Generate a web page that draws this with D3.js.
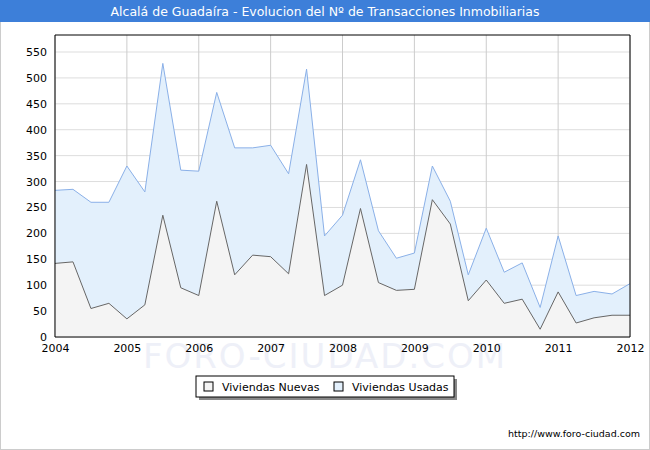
<!DOCTYPE html><html><head><script src="https://d3js.org/d3.v7.min.js"></script>
<style>body{margin:0}svg{font-family:Verdana,"DejaVu Sans",sans-serif}</style></head><body><svg width="650" height="450"></svg><script>
const quarters=d3.range(33).map(i=>2004+i/4);
const nuevas=[142,145,55,65,35,62,235,95,80,262,120,158,155,122,333,80,100,248,105,90,92,265,218,70,110,65,73,15,87,27,37,42,42];
const totales=[283,285,260,260,330,280,528,322,320,472,365,365,370,315,517,195,235,342,205,152,162,330,262,120,210,125,143,57,195,80,88,83,103];
const usadas=totales.map((t,i)=>t-nuevas[i]);
const yTicks=[0,50,100,150,200,250,300,350,400,450,500,550];
const xTicks=[2004,2005,2006,2007,2008,2009,2010,2011,2012];
const svg=d3.select("svg");
svg.append("rect").attr("x",0.5).attr("y",0.5).attr("width",649).attr("height",449).attr("fill","#fff").attr("stroke","#ccc");
svg.append("rect").attr("x",0).attr("y",0).attr("width",650).attr("height",22).attr("fill","#3d7fd9");
svg.append("text").attr("x",325).attr("y",16).attr("text-anchor","middle").attr("fill","#fff").attr("font-size",12.5).text("Alcalá de Guadaíra - Evolucion del Nº de Transacciones Inmobiliarias");
const x=d3.scaleLinear().domain([2004,2012]).range([55,630]);
const y=d3.scaleLinear().domain([0,550]).range([337,52]);
const g=svg.append("g");
g.selectAll(".h").data(yTicks).join("line").attr("x1",55).attr("x2",630).attr("y1",d=>y(d)).attr("y2",d=>y(d)).attr("stroke","#ddd");
g.selectAll(".v").data(xTicks).join("line").attr("x1",d=>x(d)).attr("x2",d=>x(d)).attr("y1",y(0)).attr("y2",35).attr("stroke","#ccc");
svg.append("text").attr("x",325).attr("y",368).attr("text-anchor","middle").attr("font-size",34).attr("fill","#eef0f8").attr("letter-spacing",2).text("FORO-CIUDAD.COM");
const aT=d3.area().x((d,i)=>x(quarters[i])).y0((d,i)=>y(nuevas[i])).y1(d=>y(d));
const aN=d3.area().x((d,i)=>x(quarters[i])).y0(y(0)).y1(d=>y(d));
const ln=d3.line().x((d,i)=>x(quarters[i])).y(d=>y(d));
g.append("path").attr("d",aT(totales)).attr("fill","#e3f0fc");
g.append("path").attr("d",aN(nuevas)).attr("fill","#f4f4f4");
g.append("path").attr("d",ln(totales)).attr("fill","none").attr("stroke","#8ab0e8");
g.append("path").attr("d",ln(nuevas)).attr("fill","none").attr("stroke","#666");
g.append("path").attr("d",`M55,35V${y(0)}H630V35`).attr("fill","none").attr("stroke","#000");
g.append("line").attr("x1",55).attr("x2",630).attr("y1",35).attr("y2",35).attr("stroke","#000");
const ya=svg.append("g").attr("transform","translate(55,0)").call(d3.axisLeft(y).tickValues(yTicks).tickSize(0).tickPadding(8));
ya.select(".domain").remove();ya.selectAll("text").attr("font-size",11).attr("font-family","Verdana,DejaVu Sans,sans-serif").attr("fill","#000");
const xa=svg.append("g").attr("transform",`translate(0,${y(0)})`).call(d3.axisBottom(x).tickValues(xTicks).tickFormat(d3.format("d")).tickSize(0).tickPadding(7));
xa.select(".domain").remove();xa.selectAll("text").attr("font-size",11).attr("font-family","Verdana,DejaVu Sans,sans-serif").attr("fill","#000");
const lg=svg.append("g");
lg.append("rect").attr("x",199).attr("y",379).attr("width",258).attr("height",21).attr("fill","#888");
lg.append("rect").attr("x",196).attr("y",376).attr("width",258).attr("height",21).attr("fill","#fff").attr("stroke","#000");
[["Viviendas Nuevas","#f4f4f4",204],["Viviendas Usadas","#e3f0fc",334]].forEach(([t,c,lx])=>{
lg.append("rect").attr("x",lx).attr("y",382).attr("width",9).attr("height",9).attr("fill",c).attr("stroke","#000");
lg.append("text").attr("x",lx+18).attr("y",391).attr("font-size",11).text(t);});
svg.append("text").attr("x",640).attr("y",437).attr("text-anchor","end").attr("font-size",9.5).text("http://www.foro-ciudad.com");
</script></body></html>
